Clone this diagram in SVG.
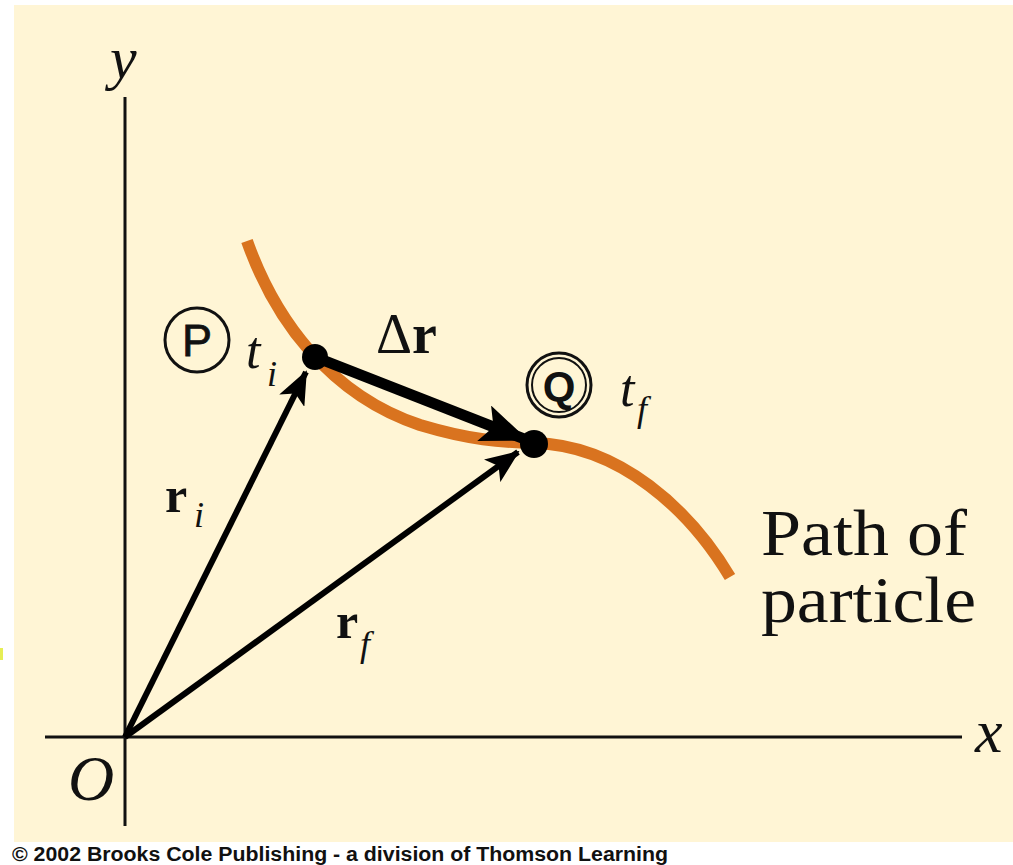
<svg xmlns="http://www.w3.org/2000/svg" width="1013" height="865" viewBox="0 0 1013 865">
<defs>
<style>
.ax{stroke:#111;stroke-width:3;fill:none}
.vec{stroke:#000;fill:none}
.serif{font-family:"Liberation Serif","Times New Roman",serif;fill:#111}
.it{font-style:italic}
.bd{font-weight:bold}
.sans{font-family:"Liberation Sans",Arial,sans-serif;fill:#111}
</style>
<marker id="headS" markerUnits="userSpaceOnUse" markerWidth="34" markerHeight="28" refX="32" refY="14" orient="auto">
<path d="M0,0 L34,14 L0,28 L8,14 Z" fill="#000"/>
</marker>
<marker id="headL" markerUnits="userSpaceOnUse" markerWidth="48" markerHeight="38" refX="46" refY="19" orient="auto">
<path d="M0,0 L48,19 L0,38 L10,19 Z" fill="#000"/>
</marker>
</defs>
<rect x="0" y="0" width="1013" height="865" fill="#ffffff"/>
<rect x="14" y="5" width="999" height="837" fill="#FFF5D5"/>
<rect x="0" y="648" width="3" height="12" fill="#E6EE55"/>

<g id="axes">
<line class="ax" x1="125" y1="97" x2="125" y2="826"/>
<line class="ax" x1="45" y1="737" x2="962" y2="737"/>
<text class="serif it" x="110" y="78" font-size="60">y</text>
<text class="serif it" x="975" y="752" font-size="62">x</text>
<text class="serif it" x="68" y="800" font-size="64">O</text>
</g>

<g id="path">
<path d="M247,241 C275,320 330,395 420,425 C470,440 500,442 534,443 C620,445 690,510 730,577" stroke="#D9731F" stroke-width="12" fill="none"/>
<text class="serif" x="761" y="555" font-size="66" textLength="206" lengthAdjust="spacingAndGlyphs">Path of</text>
<text class="serif" x="761" y="622" font-size="66" textLength="215" lengthAdjust="spacingAndGlyphs">particle</text>
</g>

<g id="connectors">
<line class="vec" x1="125" y1="737" x2="306" y2="372" stroke-width="6" marker-end="url(#headS)"/>
<line class="vec" x1="125" y1="737" x2="518" y2="452" stroke-width="6" marker-end="url(#headS)"/>
<line class="vec" x1="315" y1="357" x2="527" y2="440" stroke-width="11" marker-end="url(#headL)"/>
</g>

<g id="pointP">
<circle cx="315" cy="357" r="13" fill="#000"/>
<circle cx="197" cy="340" r="32" fill="none" stroke="#111" stroke-width="3"/>
<text class="sans" x="197" y="356" font-size="45" text-anchor="middle" stroke="#111" stroke-width="0.8">P</text>
<text class="serif it" x="246" y="368" font-size="52">t</text>
<text class="serif it" x="267" y="386" font-size="36">i</text>
</g>

<g id="pointQ">
<circle cx="534" cy="444" r="14" fill="#000"/>
<circle cx="559" cy="385" r="32" fill="none" stroke="#111" stroke-width="3"/>
<circle cx="559" cy="385" r="27" fill="none" stroke="#111" stroke-width="2"/>
<text class="sans bd" x="559" y="401" font-size="42" text-anchor="middle">Q</text>
<text class="serif it" x="620" y="406" font-size="52">t</text>
<text class="serif it" x="637" y="421" font-size="36">f</text>
</g>

<g id="labels">
<text class="serif" x="376" y="353" font-size="56">Δ<tspan class="bd">r</tspan></text>
<text class="serif bd" x="165" y="512" font-size="50">r</text>
<text class="serif it" x="194" y="527" font-size="36">i</text>
<text class="serif bd" x="336" y="638" font-size="50">r</text>
<text class="serif it" x="360" y="656" font-size="36">f</text>
</g>

<text class="sans bd" x="12" y="861" font-size="20" textLength="656" lengthAdjust="spacingAndGlyphs">© 2002 Brooks Cole Publishing - a division of Thomson Learning</text>
</svg>
